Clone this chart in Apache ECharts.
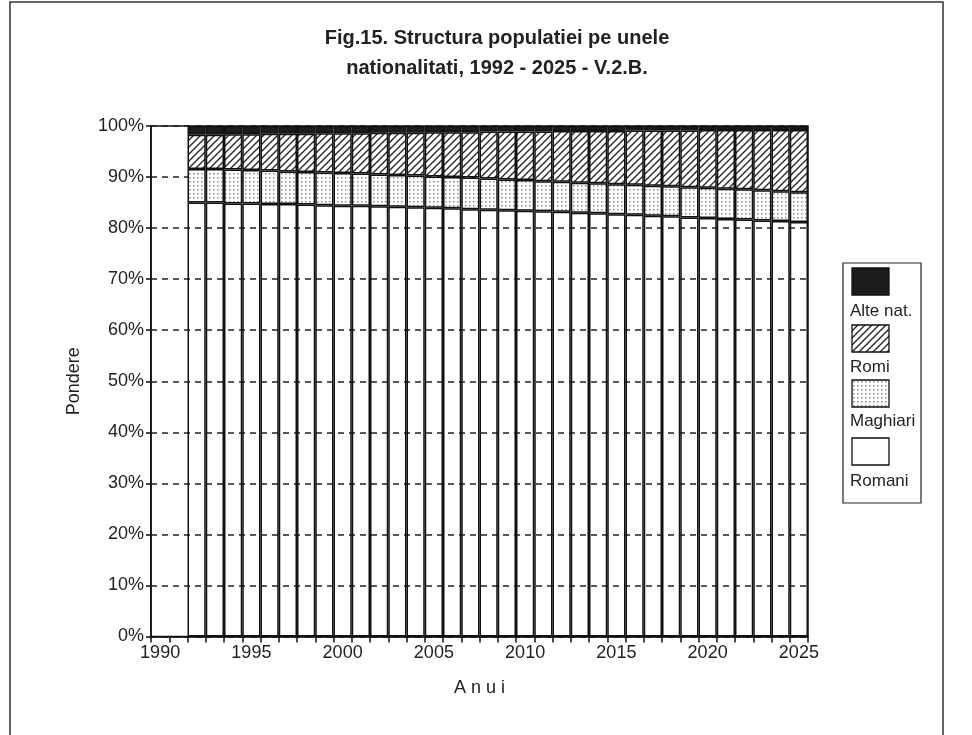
<!DOCTYPE html>
<html>
<head>
<meta charset="utf-8">
<script src="https://cdn.jsdelivr.net/npm/echarts@6/dist/echarts.min.js"></script>
<style>html,body{margin:0;padding:0;background:#fff;}#c{width:972px;height:735px;}</style>
</head>
<body>
<div id="c"></div>
<script>
// axis categories (1990-2025); data exists from 1992
var years = [1990,1991,1992,1993,1994,1995,1996,1997,1998,1999,2000,2001,2002,2003,2004,2005,2006,2007,2008,2009,2010,2011,2012,2013,2014,2015,2016,2017,2018,2019,2020,2021,2022,2023,2024,2025];
var dataYears = [1992,1993,1994,1995,1996,1997,1998,1999,2000,2001,2002,2003,2004,2005,2006,2007,2008,2009,2010,2011,2012,2013,2014,2015,2016,2017,2018,2019,2020,2021,2022,2023,2024,2025];
var romani   = [85.0,85.0,84.8,84.8,84.7,84.7,84.6,84.5,84.4,84.4,84.3,84.2,84.1,84.0,83.9,83.7,83.6,83.5,83.4,83.3,83.2,83.0,82.9,82.7,82.6,82.4,82.3,82.1,82.0,81.8,81.7,81.5,81.4,81.2];
var maghiari = [6.6,6.6,6.7,6.6,6.6,6.4,6.4,6.4,6.4,6.3,6.2,6.2,6.2,6.1,6.1,6.2,6.1,6.0,6.0,5.9,5.9,5.9,5.9,5.9,5.9,5.9,5.9,5.9,5.9,5.9,5.9,5.9,5.8,5.8];
var romi     = [6.7,6.7,6.9,7.0,7.2,7.4,7.5,7.7,7.8,7.9,8.2,8.3,8.4,8.7,8.8,8.9,9.2,9.4,9.5,9.7,9.9,10.1,10.2,10.4,10.6,10.8,10.9,11.1,11.3,11.5,11.6,11.8,12.0,12.2];
var alteNat  = [1.7,1.7,1.6,1.6,1.5,1.5,1.5,1.4,1.4,1.4,1.3,1.3,1.3,1.2,1.2,1.2,1.1,1.1,1.1,1.1,1.0,1.0,1.0,1.0,0.9,0.9,0.9,0.9,0.8,0.8,0.8,0.8,0.8,0.8];
var seriesNames = ['Romani','Maghiari','Romi','Alte nat.'];
var yTicks = [0,10,20,30,40,50,60,70,80,90,100];

function pad(arr){
  return years.map(function(y){ var i = dataYears.indexOf(y); return i < 0 ? null : arr[i]; });
}
function hatchPattern(){
  var c = document.createElement('canvas'); c.width = 7; c.height = 7;
  var g = c.getContext('2d');
  g.fillStyle = '#fff'; g.fillRect(0,0,7,7);
  g.strokeStyle = '#222'; g.lineWidth = 1.3;
  g.beginPath();
  g.moveTo(0,7); g.lineTo(7,0);
  g.moveTo(-2,2); g.lineTo(2,-2);
  g.moveTo(5,9); g.lineTo(9,5);
  g.stroke();
  return {image: c, repeat: 'repeat'};
}
function dotPattern(){
  var c = document.createElement('canvas'); c.width = 4; c.height = 4;
  var g = c.getContext('2d');
  g.fillStyle = '#fff'; g.fillRect(0,0,4,4);
  g.fillStyle = '#8a8a8a'; g.fillRect(1,1,1.5,1.5);
  return {image: c, repeat: 'repeat'};
}
var hatch = hatchPattern(), dots = dotPattern();
var dark = '#1c1c1c';
var fills = ['rgba(0,0,0,0)', dots, hatch, dark];
var values = [romani, maghiari, romi, alteNat];

var font = 'Liberation Sans, Arial, sans-serif';
var chart = echarts.init(document.getElementById('c'), null, {renderer:'canvas'});

var series = values.map(function(v, k){
  return {
    name: seriesNames[k], type: 'bar', stack: 'tot', data: pad(v),
    barCategoryGap: '0%', barGap: '0%',
    itemStyle: {color: fills[k], borderColor: '#111', borderWidth: 1.5},
    emphasis: {disabled: true}, animation: false
  };
});

var legendItems = [
  {name: 'Alte nat.', fill: dark, y: 268, ty: 313},
  {name: 'Romi', fill: hatch, y: 325, ty: 369},
  {name: 'Maghiari', fill: dots, y: 380, ty: 423},
  {name: 'Romani', fill: '#fff', y: 438, ty: 483}
];
var graphics = [
  {type:'rect', shape:{x:10, y:2, width:933, height:780}, style:{fill:'none', stroke:'#333', lineWidth:1.5}, silent:true},
  {type:'rect', shape:{x:843, y:263, width:78, height:240}, style:{fill:'#fff', stroke:'#222', lineWidth:1.2}, silent:true}
];
legendItems.forEach(function(it){
  graphics.push({type:'rect', shape:{x:852, y:it.y, width:37, height:27}, style:{fill:it.fill, stroke:'#111', lineWidth:1.3}, silent:true});
  graphics.push({type:'text', left:850, top:it.ty-10, style:{text:it.name, font:'17px ' + font, fill:'#222'}, silent:true});
});

chart.setOption({
  backgroundColor: '#fff',
  animation: false,
  title: {
    text: 'Fig.15. Structura populatiei pe unele\nnationalitati, 1992 - 2025 - V.2.B.',
    left: 492, top: 18, textAlign: 'center',
    textStyle: {fontFamily: font, fontSize: 20, fontWeight: 'bold', color: '#222', lineHeight: 30}
  },
  grid: {left: 151, right: 164, top: 126, bottom: 98.5, show: true, borderColor: '#111', borderWidth: 1.5, backgroundColor: 'rgba(0,0,0,0)'},
  xAxis: {
    type: 'category', data: years,
    name: 'A n u i', nameLocation: 'middle', nameGap: 43,
    nameTextStyle: {fontFamily: font, fontSize: 18, color: '#222'},
    axisLine: {lineStyle: {color: '#111', width: 1.5}},
    axisTick: {show: true, interval: 0, length: 6, alignWithLabel: false, lineStyle: {color: '#111', width: 1.5}},
    axisLabel: {interval: 4, margin: 8, fontFamily: font, fontSize: 18, color: '#222'},
    splitLine: {show: false}
  },
  yAxis: {
    type: 'value', min: 0, max: 100, interval: 10,
    name: 'Pondere', nameLocation: 'middle', nameGap: 68,
    nameTextStyle: {fontFamily: font, fontSize: 18, color: '#222'},
    axisLine: {show: true, lineStyle: {color: '#111', width: 1.5}},
    axisTick: {show: true, length: 5, lineStyle: {color: '#111', width: 1.5}},
    axisLabel: {formatter: '{value}%', margin: 7, fontFamily: font, fontSize: 18, color: '#222',
      customValues: yTicks},
    splitLine: {show: true, lineStyle: {color: '#222', width: 1.5, type: [6,5]}}
  },
  series: series,
  graphic: graphics
});
</script>
</body>
</html>
